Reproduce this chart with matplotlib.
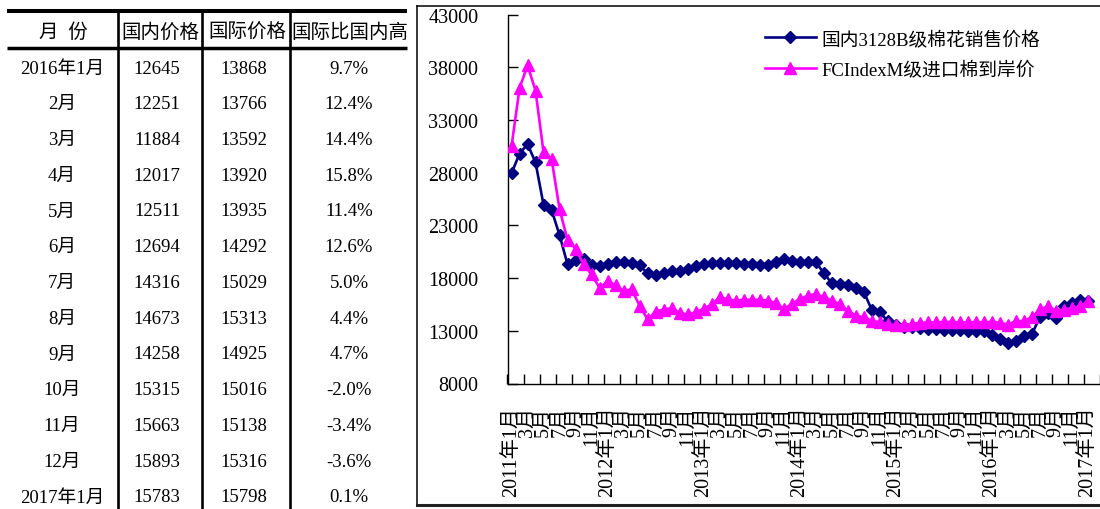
import matplotlib
matplotlib.use('Agg')
import matplotlib.pyplot as plt
import numpy as np

plt.rcParams['font.family'] = ['Liberation Serif', 'Noto Sans CJK SC']
plt.rcParams['axes.unicode_minus'] = False

# Monthly prices (yuan/t), Jan 2011 - Dec 2015
domestic_hist = [
    27950, 29800, 30720, 28980, 24960, 24490, 22080, 19300, 19740, 19800, 19230, 19120,
    19300, 19530, 19570, 19420, 19210, 18440, 18250, 18500, 18690, 18700, 18900, 19150,
    19320, 19390, 19390, 19390, 19390, 19370, 19370, 19250, 19200, 19510, 19770, 19580,
    19490, 19520, 19510, 18490, 17510, 17450, 17320, 17090, 16690, 14980, 14780, 13900,
    13550, 13380, 13340, 13250, 13200, 13150, 13100, 13050, 13050, 13000, 13000, 12950,
]
import_hist = [
    30500, 36000, 38200, 35800, 29950, 29350, 24550, 21600, 20800, 19300, 18350, 17080,
    17700, 17350, 16750, 16950, 15380, 14080, 14830, 15020, 15150, 14700, 14550, 14750,
    15100, 15500, 16200, 16000, 15850, 15950, 15950, 15950, 15860, 15640, 15070, 15550,
    16020, 16340, 16500, 16180, 15860, 15550, 14910, 14440, 14280, 13960, 13810, 13650,
    13550, 13550, 13650, 13750, 13800, 13800, 13850, 13850, 13800, 13800, 13850, 13800,
]

# Table: Jan 2016 - Jan 2017
table_months = ['2016年1月', '2月', '3月', '4月', '5月', '6月', '7月', '8月', '9月',
                '10月', '11月', '12月', '2017年1月']
domestic_recent = [12645, 12251, 11884, 12017, 12511, 12694, 14316, 14673, 14258,
                   15315, 15663, 15893, 15783]
import_recent = [13868, 13766, 13592, 13920, 13935, 14292, 15029, 15313, 14925,
                 15016, 15138, 15316, 15798]
premium_pct = [9.7, 12.4, 14.4, 15.8, 11.4, 12.6, 5.0, 4.4, 4.7, -2.0, -3.4, -3.6, 0.1]

table_headers = ['月  份', '国内价格', '国际价格', '国际比国内高']
series_names = ['国内3128B级棉花销售价格', 'FCIndexM级进口棉到岸价']
y_ticks = [8000, 13000, 18000, 23000, 28000, 33000, 38000, 43000]
start_year = 2011
n_slots = 74  # monthly category slots on the x axis

domestic = domestic_hist + domestic_recent
imported = import_hist + import_recent
months = np.arange(len(domestic))

fig = plt.figure(figsize=(11, 5.1), dpi=100)

# ---- background layer in pixel coordinates: table and frame ----
bg = fig.add_axes([0, 0, 1, 1])
bg.set_xlim(0, 1100)
bg.set_ylim(510, 0)
bg.axis('off')

bg.plot([7, 407], [12, 12], color='black', lw=2.9, solid_capstyle='butt')
bg.plot([7, 407], [48.5, 48.5], color='black', lw=2.5, solid_capstyle='butt')
for xv in [118, 201.5, 290]:
    bg.plot([xv, xv], [11, 510], color='black', lw=1.9, solid_capstyle='butt')

# frame around the chart
bg.plot([417, 1100], [7, 7], color='black', lw=1.1)
bg.plot([417, 417], [7, 506], color='black', lw=1.1)
bg.plot([417, 1100], [505.5, 505.5], color='#222222', lw=2.2)

header_x = [63, 160, 247, 350]
col_x = [62, 157, 244, 349]
for hx, h in zip(header_x, table_headers):
    bg.text(hx, 33, h, ha='center', va='center', fontsize=14)

for k, (m, d, f, p) in enumerate(zip(table_months, domestic_recent, import_recent, premium_pct)):
    ry = 69 + 35.75 * k
    row = [m, f'{d}', f'{f}', f'{p:.1f}%']
    for cx, s in zip(col_x, row):
        bg.text(cx, ry, s, ha='center', va='center', fontsize=13.5)

# ---- line chart ----
ax = fig.add_axes([507.5 / 1100, 1 - 384.5 / 510, 592.5 / 1100, (384.5 - 15.7) / 510])
ax.patch.set_alpha(0)
ax.plot(months, domestic, color='#000080', lw=1.9, marker='D', ms=6.5,
        label=series_names[0], zorder=3)
ax.plot(months, imported, color='#FF00FF', lw=1.9, marker='^', ms=8.5,
        label=series_names[1], zorder=4)

ax.set_xlim(-0.5, n_slots - 0.5)
ax.set_ylim(y_ticks[0], y_ticks[-1])
ax.set_yticks(y_ticks)
ax.tick_params(axis='y', direction='in', length=7, width=1, pad=21, labelsize=14.5)

label_pos = np.arange(0, len(domestic), 2)
labels = []
for pos in label_pos:
    yr, mo = start_year + pos // 12, pos % 12 + 1
    labels.append(f'{yr}年{mo}月' if mo == 1 else f'{mo}月')
ax.set_xticks(label_pos)
ax.set_xticklabels(labels, rotation=90, fontsize=14.5)
ax.set_xticks(np.arange(-0.5, n_slots, 2), minor=True)
ax.tick_params(axis='x', which='major', length=0, pad=16)
ax.tick_params(axis='x', which='minor', direction='in', length=7, width=1)

for side in ['top', 'right']:
    ax.spines[side].set_visible(False)
for side in ['left', 'bottom']:
    ax.spines[side].set_linewidth(1.0)

leg = ax.legend(loc='upper left', bbox_to_anchor=(765 / 1100, 1 - 31 / 510),
                bbox_transform=fig.transFigure, frameon=False, fontsize=13.5,
                handlelength=2.7, handletextpad=0.3, labelspacing=0.68,
                borderpad=0, borderaxespad=0)

fig.savefig('out.png', dpi=100)
